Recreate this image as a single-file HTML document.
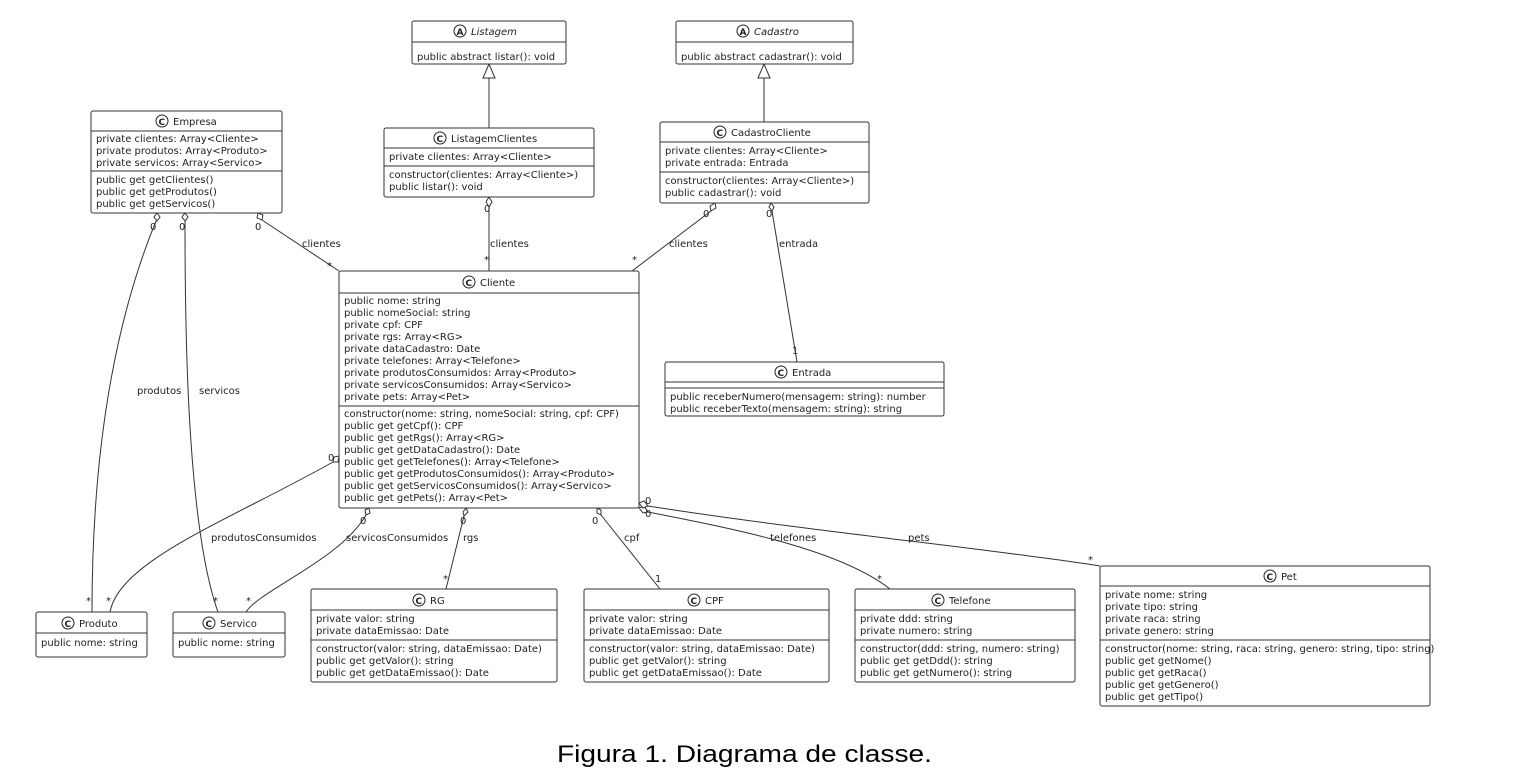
<!DOCTYPE html>
<html><head><meta charset="utf-8"><style>
html,body{margin:0;padding:0;background:#fff;}
svg{display:block}
text{font-family:"DejaVu Sans",sans-serif;font-size:10px;fill:#222}
.cap{font-family:"Liberation Sans",sans-serif;font-size:24px;fill:#000}
.b{fill:#fff;stroke:#333;stroke-width:1}
.l{stroke:#333;stroke-width:1;fill:none}
.ic{fill:#fff;stroke:#222;stroke-width:1}
.it{font-style:italic}
</style></head><body>
<svg width="1517" height="777" viewBox="0 0 1517 777" xmlns="http://www.w3.org/2000/svg">
<g class="l">
<line x1="489" y1="78" x2="489" y2="128"/>
<polygon points="489,64 483,78 495,78" fill="#fff"/>
<line x1="764" y1="78" x2="764" y2="122"/>
<polygon points="764,64 758,78 770,78" fill="#fff"/>
<path d="M262,220 L339,271"/>
<path d="M489,207 L489,271"/>
<path d="M711,211 L632,271"/>
<path d="M772,211 L797,362"/>
<path d="M156,221 C140,260 92,380 92,612"/>
<path d="M185,221 C185,300 185,520 218,612"/>
<path d="M333,462 C230,520 120,560 110,612"/>
<path d="M366,515 C340,560 260,590 246,612"/>
<path d="M464,516 L446,589"/>
<path d="M601,515 L660,589"/>
<path d="M648,512 C740,530 840,550 890,589"/>
<path d="M648,506 C800,530 1000,550 1100,566"/>
</g>
<g fill="#fff" stroke="#333">
<polygon points="157,213 160,217 157,221 154,217"/>
<polygon points="185,213 188,217 185,221 182,217"/>
<polygon points="258,213 263,215 262,220 257,218"/>
<polygon points="489,197 492,202 489,207 486,202"/>
<polygon points="715,203 716,208 711,211 710,206"/>
<polygon points="771,203 774,207 772,211 769,207"/>
<polygon points="339,456 338,462 333,462 334,457"/>
<polygon points="369,508 370,513 366,515 365,510"/>
<polygon points="466,508 468,512 464,516 463,512"/>
<polygon points="597,508 601,510 601,515 597,513"/>
<polygon points="639,508 644,506 648,512 643,513"/>
<polygon points="639,503 644,501 648,506 643,508"/>
</g>
<g>
<text x="150" y="230">0</text><text x="179" y="230">0</text><text x="255" y="230">0</text>
<text x="302" y="247">clientes</text><text x="327" y="269">*</text>
<text x="484" y="212">0</text><text x="490" y="247">clientes</text><text x="484" y="263">*</text>
<text x="703" y="217">0</text><text x="669" y="247">clientes</text><text x="632" y="263">*</text>
<text x="766" y="217">0</text><text x="779" y="247">entrada</text><text x="792" y="354">1</text>
<text x="137" y="394">produtos</text><text x="199" y="394">servicos</text>
<text x="86" y="604">*</text><text x="213" y="604">*</text>
<text x="106" y="604">*</text><text x="246" y="604">*</text>
<text x="328" y="461">0</text>
<text x="211" y="541">produtosConsumidos</text>
<text x="360" y="524">0</text><text x="346" y="541">servicosConsumidos</text>
<text x="460" y="524">0</text><text x="463" y="541">rgs</text><text x="443" y="582">*</text>
<text x="592" y="524">0</text><text x="624" y="541">cpf</text><text x="655" y="582">1</text>
<text x="645" y="517">0</text><text x="645" y="504">0</text>
<text x="770" y="541">telefones</text><text x="877" y="582">*</text>
<text x="908" y="541">pets</text><text x="1088" y="563">*</text>
</g>

<rect class="b" x="412" y="21" width="154" height="43" rx="2"/>
<line class="l" x1="412" y1="42" x2="566" y2="42"/>
<circle class="ic" cx="460" cy="31" r="6"/><text x="456.5" y="35" style="font-size:9px;font-weight:bold">A</text>
<text x="471" y="35" class="it">Listagem</text>
<text x="417" y="60">public abstract listar(): void</text>
<rect class="b" x="676" y="21" width="177" height="43" rx="2"/>
<line class="l" x1="676" y1="42" x2="853" y2="42"/>
<circle class="ic" cx="743" cy="31" r="6"/><text x="739.5" y="35" style="font-size:9px;font-weight:bold">A</text>
<text x="754" y="35" class="it">Cadastro</text>
<text x="681" y="60">public abstract cadastrar(): void</text>

<rect class="b" x="91" y="111" width="191" height="102" rx="2"/>
<line class="l" x1="91" y1="131" x2="282" y2="131"/><line class="l" x1="91" y1="171" x2="282" y2="171"/>
<circle class="ic" cx="162" cy="121" r="6"/><text x="158.5" y="125" style="font-size:9px;font-weight:bold">C</text>
<text x="173" y="125">Empresa</text>
<text x="96" y="142">private clientes: Array&lt;Cliente&gt;</text>
<text x="96" y="154">private produtos: Array&lt;Produto&gt;</text>
<text x="96" y="166">private servicos: Array&lt;Servico&gt;</text>
<text x="96" y="183">public get getClientes()</text>
<text x="96" y="195">public get getProdutos()</text>
<text x="96" y="207">public get getServicos()</text>

<rect class="b" x="384" y="128" width="210" height="69" rx="2"/>
<line class="l" x1="384" y1="148" x2="594" y2="148"/><line class="l" x1="384" y1="166" x2="594" y2="166"/>
<circle class="ic" cx="440" cy="138" r="6"/><text x="436.5" y="142" style="font-size:9px;font-weight:bold">C</text>
<text x="451" y="142">ListagemClientes</text>
<text x="389" y="160">private clientes: Array&lt;Cliente&gt;</text>
<text x="389" y="178">constructor(clientes: Array&lt;Cliente&gt;)</text>
<text x="389" y="190">public listar(): void</text>

<rect class="b" x="660" y="122" width="209" height="81" rx="2"/>
<line class="l" x1="660" y1="142" x2="869" y2="142"/><line class="l" x1="660" y1="172" x2="869" y2="172"/>
<circle class="ic" cx="720" cy="132" r="6"/><text x="716.5" y="136" style="font-size:9px;font-weight:bold">C</text>
<text x="731" y="136">CadastroCliente</text>
<text x="665" y="154">private clientes: Array&lt;Cliente&gt;</text>
<text x="665" y="166">private entrada: Entrada</text>
<text x="665" y="184">constructor(clientes: Array&lt;Cliente&gt;)</text>
<text x="665" y="196">public cadastrar(): void</text>

<rect class="b" x="339" y="271" width="300" height="237" rx="2"/>
<line class="l" x1="339" y1="293" x2="639" y2="293"/><line class="l" x1="339" y1="406" x2="639" y2="406"/>
<circle class="ic" cx="469" cy="282" r="6"/><text x="465.5" y="286" style="font-size:9px;font-weight:bold">C</text>
<text x="480" y="286">Cliente</text>
<text x="344" y="304">public nome: string</text>
<text x="344" y="316">public nomeSocial: string</text>
<text x="344" y="328">private cpf: CPF</text>
<text x="344" y="340">private rgs: Array&lt;RG&gt;</text>
<text x="344" y="352">private dataCadastro: Date</text>
<text x="344" y="364">private telefones: Array&lt;Telefone&gt;</text>
<text x="344" y="376">private produtosConsumidos: Array&lt;Produto&gt;</text>
<text x="344" y="388">private servicosConsumidos: Array&lt;Servico&gt;</text>
<text x="344" y="400">private pets: Array&lt;Pet&gt;</text>
<text x="344" y="417">constructor(nome: string, nomeSocial: string, cpf: CPF)</text>
<text x="344" y="429">public get getCpf(): CPF</text>
<text x="344" y="441">public get getRgs(): Array&lt;RG&gt;</text>
<text x="344" y="453">public get getDataCadastro(): Date</text>
<text x="344" y="465">public get getTelefones(): Array&lt;Telefone&gt;</text>
<text x="344" y="477">public get getProdutosConsumidos(): Array&lt;Produto&gt;</text>
<text x="344" y="489">public get getServicosConsumidos(): Array&lt;Servico&gt;</text>
<text x="344" y="501">public get getPets(): Array&lt;Pet&gt;</text>

<rect class="b" x="665" y="362" width="279" height="54" rx="2"/>
<line class="l" x1="665" y1="382" x2="944" y2="382"/><line class="l" x1="665" y1="388" x2="944" y2="388"/>
<circle class="ic" cx="781" cy="372" r="6"/><text x="777.5" y="376" style="font-size:9px;font-weight:bold">C</text>
<text x="792" y="376">Entrada</text>
<text x="670" y="400">public receberNumero(mensagem: string): number</text>
<text x="670" y="412">public receberTexto(mensagem: string): string</text>

<rect class="b" x="36" y="612" width="111" height="45" rx="2"/>
<line class="l" x1="36" y1="633" x2="147" y2="633"/>
<circle class="ic" cx="68" cy="623" r="6"/><text x="64.5" y="627" style="font-size:9px;font-weight:bold">C</text>
<text x="79" y="627">Produto</text>
<text x="41" y="646">public nome: string</text>
<rect class="b" x="173" y="612" width="112" height="45" rx="2"/>
<line class="l" x1="173" y1="633" x2="285" y2="633"/>
<circle class="ic" cx="209" cy="623" r="6"/><text x="205.5" y="627" style="font-size:9px;font-weight:bold">C</text>
<text x="220" y="627">Servico</text>
<text x="178" y="646">public nome: string</text>

<rect class="b" x="311" y="589" width="246" height="93" rx="2"/>
<line class="l" x1="311" y1="610" x2="557" y2="610"/><line class="l" x1="311" y1="640" x2="557" y2="640"/>
<circle class="ic" cx="419" cy="600" r="6"/><text x="415.5" y="604" style="font-size:9px;font-weight:bold">C</text>
<text x="430" y="604">RG</text>
<text x="316" y="622">private valor: string</text>
<text x="316" y="634">private dataEmissao: Date</text>
<text x="316" y="652">constructor(valor: string, dataEmissao: Date)</text>
<text x="316" y="664">public get getValor(): string</text>
<text x="316" y="676">public get getDataEmissao(): Date</text>

<rect class="b" x="584" y="589" width="245" height="93" rx="2"/>
<line class="l" x1="584" y1="610" x2="829" y2="610"/><line class="l" x1="584" y1="640" x2="829" y2="640"/>
<circle class="ic" cx="694" cy="600" r="6"/><text x="690.5" y="604" style="font-size:9px;font-weight:bold">C</text>
<text x="705" y="604">CPF</text>
<text x="589" y="622">private valor: string</text>
<text x="589" y="634">private dataEmissao: Date</text>
<text x="589" y="652">constructor(valor: string, dataEmissao: Date)</text>
<text x="589" y="664">public get getValor(): string</text>
<text x="589" y="676">public get getDataEmissao(): Date</text>

<rect class="b" x="855" y="589" width="220" height="93" rx="2"/>
<line class="l" x1="855" y1="610" x2="1075" y2="610"/><line class="l" x1="855" y1="640" x2="1075" y2="640"/>
<circle class="ic" cx="938" cy="600" r="6"/><text x="934.5" y="604" style="font-size:9px;font-weight:bold">C</text>
<text x="949" y="604">Telefone</text>
<text x="860" y="622">private ddd: string</text>
<text x="860" y="634">private numero: string</text>
<text x="860" y="652">constructor(ddd: string, numero: string)</text>
<text x="860" y="664">public get getDdd(): string</text>
<text x="860" y="676">public get getNumero(): string</text>

<rect class="b" x="1100" y="566" width="330" height="140" rx="2"/>
<line class="l" x1="1100" y1="586" x2="1430" y2="586"/><line class="l" x1="1100" y1="640" x2="1430" y2="640"/>
<circle class="ic" cx="1270" cy="576" r="6"/><text x="1266.5" y="580" style="font-size:9px;font-weight:bold">C</text>
<text x="1281" y="580">Pet</text>
<text x="1105" y="598">private nome: string</text>
<text x="1105" y="610">private tipo: string</text>
<text x="1105" y="622">private raca: string</text>
<text x="1105" y="634">private genero: string</text>
<text x="1105" y="652">constructor(nome: string, raca: string, genero: string, tipo: string)</text>
<text x="1105" y="664">public get getNome()</text>
<text x="1105" y="676">public get getRaca()</text>
<text x="1105" y="688">public get getGenero()</text>
<text x="1105" y="700">public get getTipo()</text>

<text class="cap" x="557" y="762" textLength="375" lengthAdjust="spacingAndGlyphs">Figura 1. Diagrama de classe.</text>
</svg>
</body></html>
